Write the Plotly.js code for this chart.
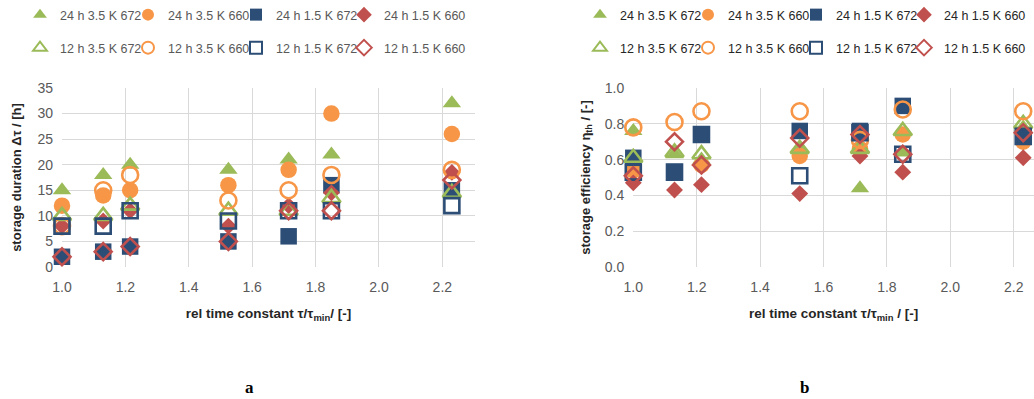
<!DOCTYPE html>
<html><head><meta charset="utf-8">
<script src="https://cdn.plot.ly/plotly-3.0.1.min.js"></script>
<style>html,body{margin:0;padding:0;background:#fff}</style>
</head><body>
<div id="chart" style="width:1034px;height:399px"></div>
<script>
// ---- data ----
const relTime = [1.0, 1.13, 1.215, 1.525, 1.715, 1.85, 2.23];
const seriesNames = ["24 h 3.5 K 672", "24 h 3.5 K 660", "24 h 1.5 K 672", "24 h 1.5 K 660",
                     "12 h 3.5 K 672", "12 h 3.5 K 660", "12 h 1.5 K 672", "12 h 1.5 K 660"];
// storage duration [h]
const dur_24h_35K_672 = [15, 18, 20, 19, 21, 22, 32];
const dur_24h_35K_660 = [12, 14, 15, 16, 19, 30, 26];
const dur_24h_15K_672 = [2, 3, 4, 5, 6, 16, 15];
const dur_24h_15K_660 = [8, 9, 11, 8, 12, 14.5, 18.5];
const dur_12h_35K_672 = [10, 10, 12, 11, 11, 13.5, 14.5];
const dur_12h_35K_660 = [8, 15, 18, 13, 15, 18, 19];
const dur_12h_15K_672 = [8, 8, 11, 9, 11, 11, 12];
const dur_12h_15K_660 = [2, 3, 4, 5, 11, 11, 17];
// storage efficiency [-]
const eff_24h_35K_672 = [0.76, 0.63, 0.60, 0.66, 0.44, 0.64, 0.78];
const eff_24h_35K_660 = [0.54, 0.53, 0.57, 0.62, 0.66, 0.74, 0.70];
const eff_24h_15K_672 = [0.61, 0.53, 0.74, 0.76, 0.76, 0.90, 0.73];
const eff_24h_15K_660 = [0.47, 0.43, 0.46, 0.41, 0.62, 0.53, 0.61];
const eff_12h_35K_672 = [0.61, 0.64, 0.63, 0.66, 0.66, 0.76, 0.80];
const eff_12h_35K_660 = [0.78, 0.81, 0.87, 0.87, 0.71, 0.88, 0.87];
const eff_12h_15K_672 = [0.53, 0.53, 0.74, 0.51, 0.75, 0.63, 0.73];
const eff_12h_15K_660 = [0.51, 0.70, 0.57, 0.72, 0.74, 0.63, 0.75];
const xTicks = [1.0, 1.2, 1.4, 1.6, 1.8, 2.0, 2.2];

const durSeries = [dur_24h_35K_672, dur_24h_35K_660, dur_24h_15K_672, dur_24h_15K_660,
                   dur_12h_35K_672, dur_12h_35K_660, dur_12h_15K_672, dur_12h_15K_660];
const effSeries = [eff_24h_35K_672, eff_24h_35K_660, eff_24h_15K_672, eff_24h_15K_660,
                   eff_12h_35K_672, eff_12h_35K_660, eff_12h_15K_672, eff_12h_15K_660];

// ---- styles ----
const GREEN = '#9BBB59', ORANGE = '#F79646', BLUE = '#2C4D75', RED = '#C0504D';
const seriesColors = [GREEN, ORANGE, BLUE, RED, GREEN, ORANGE, BLUE, RED];
const seriesSymbols = ['triangle-up', 'circle', 'square', 'diamond',
                       'triangle-up-open', 'circle-open', 'square-open', 'diamond-open'];
const seriesSizes = [16, 16.5, 16.5, 13, 16, 16, 15, 13];

const W = 1034, H = 399;
const FONT = 'Liberation Sans, Arial, sans-serif';
const legendStartX = [20, 580];   // left edge of first legend entry, per panel (px)
const legendStep = 108;           // spacing between legend entries (px)
const legendRowTop = [0, 33];     // top of legend rows (px)
const legendColors = ['#595959', '#262626'];

function legendId(n) { return n === 1 ? 'legend' : 'legend' + n; }

function makeTraces(yData, xa, ya, panel) {
  return yData.map((ys, i) => {
    const open = i >= 4;
    return {
      type: 'scatter', mode: 'markers', x: relTime, y: ys,
      name: seriesNames[i], xaxis: xa, yaxis: ya,
      legend: legendId(panel * 8 + i + 1),
      cliponaxis: false,
      marker: {
        symbol: seriesSymbols[i], size: seriesSizes[i], color: seriesColors[i],
        line: {color: seriesColors[i], width: open ? 2.6 : 0}
      },
      hoverinfo: 'x+y+name'
    };
  });
}

const traces = [
  ...makeTraces(durSeries, 'x', 'y', 0),
  ...makeTraces(effSeries, 'x2', 'y2', 1)
];

const GRID = '#D9D9D9';
const tickFont = {family: FONT, size: 14, color: '#595959'};
const xTitleFont = {family: FONT, size: 13.5, color: '#262626'};
const yTitleFont = {family: FONT, size: 13, color: '#262626'};

function xAxis(domain, range, anchor) {
  return {
    domain: domain, range: range, anchor: anchor,
    tickvals: xTicks, tickformat: '.1f', ticks: '', ticklabelstandoff: 10,
    showgrid: true, gridcolor: GRID, gridwidth: 1.3,
    showline: false, zeroline: false, tickfont: tickFont, fixedrange: true
  };
}
function yAxis(range, dtick, fmt, anchor) {
  return {
    domain: [1 - 267 / H, 1 - 88 / H], range: range, anchor: anchor,
    dtick: dtick, tick0: 0, tickformat: fmt, ticks: '', ticklabelstandoff: 8,
    showgrid: true, gridcolor: GRID, gridwidth: 1.3,
    showline: false, zeroline: false, tickfont: tickFont, fixedrange: true
  };
}

const layout = {
  width: W, height: H,
  margin: {l: 0, r: 0, t: 0, b: 0},
  paper_bgcolor: '#fff', plot_bgcolor: '#fff',
  showlegend: true,
  font: {family: FONT},
  xaxis: Object.assign(xAxis([62 / W, 475 / W], [1.0, 2.303], 'y'),
    {title: {text: '<b>rel time constant τ/τ<sub>min</sub>/ [-]</b>', font: xTitleFont, standoff: 14}}),
  yaxis: Object.assign(yAxis([0, 35], 5, 'd', 'x'),
    {title: {text: '<b>storage duration Δτ / [h]</b>', font: yTitleFont, standoff: 12}}),
  xaxis2: Object.assign(xAxis([633.3 / W, 1], [1.0, 2.264], 'y2'),
    {title: {text: '<b>rel time constant τ/τ<sub>min</sub> / [-]</b>', font: xTitleFont, standoff: 14}}),
  yaxis2: Object.assign(yAxis([0, 1.0], 0.2, '.1f', 'x2'),
    {title: {text: '<b>storage efficiency η<sub>th</sub> / [-]</b>', font: yTitleFont, standoff: 11}}),
  annotations: [
    {text: '<b>a</b>', xref: 'paper', yref: 'paper', x: 243 / W, y: 0, yanchor: 'bottom', yshift: 0, showarrow: false,
     font: {family: 'Liberation Serif, Times New Roman, serif', size: 17, color: '#000'}},
    {text: '<b>b</b>', xref: 'paper', yref: 'paper', x: 811 / W, y: 0, yanchor: 'bottom', yshift: 0, showarrow: false,
     font: {family: 'Liberation Serif, Times New Roman, serif', size: 17, color: '#000'}}
  ]
};

// one legend per entry so every key sits where the reference puts it
for (let panel = 0; panel < 2; panel++) {
  for (let i = 0; i < 8; i++) {
    const row = i < 4 ? 0 : 1, col = i % 4;
    layout[legendId(panel * 8 + i + 1)] = {
      orientation: 'h', xanchor: 'left', yanchor: 'top',
      x: (legendStartX[panel] + col * legendStep) / W,
      y: 1 - legendRowTop[row] / H,
      itemsizing: 'constant', bgcolor: 'rgba(0,0,0,0)',
      itemclick: false, itemdoubleclick: false,
      font: {size: 12.5, color: legendColors[panel], family: FONT}
    };
  }
}

Plotly.newPlot('chart', traces, layout, {displayModeBar: false, responsive: false});
</script>
</body></html>
